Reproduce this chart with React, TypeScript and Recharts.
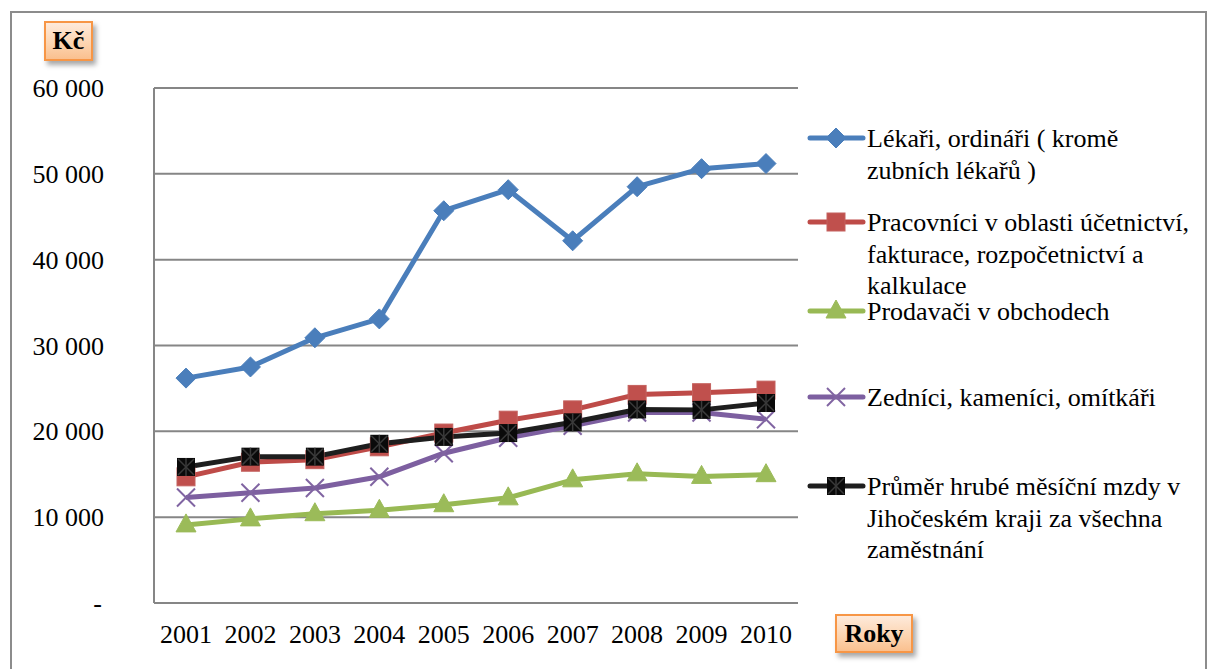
import React from 'react';
import { LineChart, Line, XAxis, YAxis, CartesianGrid } from 'recharts';

const years = ['2001', '2002', '2003', '2004', '2005', '2006', '2007', '2008', '2009', '2010'];
const lekari = [26200, 27500, 30900, 33100, 45700, 48150, 42200, 48500, 50600, 51200];
const ucetni = [14700, 16400, 16700, 18200, 19800, 21300, 22500, 24300, 24500, 24800];
const prodavaci = [9100, 9800, 10400, 10800, 11450, 12250, 14350, 15050, 14750, 14950];
const zednici = [12300, 12850, 13400, 14700, 17450, 19250, 20650, 22200, 22200, 21400];
const prumer = [15850, 17050, 17050, 18550, 19350, 19800, 21050, 22550, 22500, 23300];
const yTicks = [0, 10000, 20000, 30000, 40000, 50000, 60000];

const seriesNames = [
  'Lékaři, ordináři ( kromě zubních lékařů )',
  'Pracovníci v oblasti účetnictví, fakturace, rozpočetnictví a kalkulace',
  'Prodavači v obchodech',
  'Zedníci, kameníci, omítkáři',
  'Průměr hrubé měsíční mzdy v Jihočeském kraji za všechna zaměstnání',
];
const legendLines = [
  ['Lékaři, ordináři ( kromě', 'zubních lékařů )'],
  ['Pracovníci v oblasti účetnictví,', 'fakturace, rozpočetnictví a', 'kalkulace'],
  ['Prodavači v obchodech'],
  ['Zedníci, kameníci, omítkáři'],
  ['Průměr hrubé měsíční mzdy v', 'Jihočeském kraji za všechna', 'zaměstnání'],
];
const yLabel = 'Kč';
const xLabel = 'Roky';

const data = years.map((y, i) => ({
  year: y,
  s0: lekari[i],
  s1: ucetni[i],
  s2: prodavaci[i],
  s3: zednici[i],
  s4: prumer[i],
}));

const FONT = "'Liberation Serif', 'Times New Roman', serif";
const GRID = '#868686';
const colors = ['#4A7EBB', '#BE4B48', '#98B954', '#7D5FA0', '#1E1E1E'];
const markerKinds = ['diamond', 'square', 'triangle', 'x', 'star'];
const legendCenters = [138, 222, 311, 397, 486];

function Marker({ kind, cx, cy }: { kind: string; cx: number; cy: number }) {
  if (kind === 'diamond') {
    return <polygon points={`${cx},${cy - 10} ${cx + 10},${cy} ${cx},${cy + 10} ${cx - 10},${cy}`} fill="#4A7EBB" stroke="#4A7EBB" strokeWidth={1} />;
  }
  if (kind === 'square') {
    return <rect x={cx - 9} y={cy - 9} width={18} height={18} fill="#C0504D" stroke="#C4615E" strokeWidth={1} />;
  }
  if (kind === 'triangle') {
    return <polygon points={`${cx},${cy - 11} ${cx + 10},${cy + 7} ${cx - 10},${cy + 7}`} fill="#9BBB59" stroke="#9BBB59" strokeWidth={1} />;
  }
  if (kind === 'x') {
    return (
      <g stroke="#8064A2" strokeWidth={2}>
        <line x1={cx - 9} y1={cy - 9} x2={cx + 9} y2={cy + 9} />
        <line x1={cx - 9} y1={cy + 9} x2={cx + 9} y2={cy - 9} />
      </g>
    );
  }
  return (
    <g>
      <rect x={cx - 9} y={cy - 9} width={18} height={18} fill="#0A0A0A" />
      <g stroke="#3a3a3a" strokeWidth={1.5}>
        <line x1={cx - 8} y1={cy - 8} x2={cx + 8} y2={cy + 8} />
        <line x1={cx - 8} y1={cy + 8} x2={cx + 8} y2={cy - 8} />
        <line x1={cx} y1={cy - 9} x2={cx} y2={cy + 9} />
      </g>
    </g>
  );
}

const makeDot = (kind: string) => (props: any) => {
  const { cx, cy, index } = props;
  if (cx == null || cy == null) return <g key={index} />;
  return <Marker key={index} kind={kind} cx={cx} cy={cy} />;
};

const fmt = (v: number) => {
  if (v === 0) return '-';
  const s = String(v);
  return s.slice(0, s.length - 3) + ' ' + s.slice(-3);
};

const YTick = (props: any) => {
  const { x, y, payload } = props;
  const v = payload.value;
  return (
    <text x={v === 0 ? x - 2 : x} y={y} dy={9} textAnchor="end" fontFamily={FONT} fontSize={26} fill="#000">
      {fmt(v)}
    </text>
  );
};

const XTick = (props: any) => {
  const { x, payload } = props;
  return (
    <text x={x} y={603} dy={40} textAnchor="middle" fontFamily={FONT} fontSize={26} fill="#000">
      {payload.value}
    </text>
  );
};

const boxStyle: React.CSSProperties = {
  position: 'absolute',
  boxSizing: 'border-box',
  border: '2px solid #F79646',
  background: 'linear-gradient(to bottom, #FEEADB 0%, #FCD3AE 60%, #FAC08F 100%)',
  boxShadow: '3px 4px 5px rgba(0,0,0,0.35)',
  fontFamily: FONT,
  fontWeight: 'bold',
  fontSize: 26,
  color: '#000',
  display: 'flex',
  alignItems: 'center',
  justifyContent: 'center',
};

export default function App() {
  return (
    <div style={{ position: 'absolute', left: 0, top: 0, width: 1208, height: 669, overflow: 'hidden', background: '#fff' }}>
      <div style={{ position: 'absolute', left: 10, top: 11, width: 1197, height: 700, border: '2px solid #8C8C8C', boxSizing: 'border-box' }} />
      <div style={{ position: 'absolute', left: 0, top: 0 }}>
        <LineChart width={1208} height={669} data={data} margin={{ top: 88, right: 410, bottom: 36, left: 94 }}>
          <CartesianGrid horizontal vertical={false} stroke={GRID} strokeWidth={2} />
          <XAxis
            dataKey="year"
            height={30}
            padding={{ left: 32, right: 32 }}
            tickLine={false}
            axisLine={{ stroke: GRID, strokeWidth: 2 }}
            tick={<XTick />}
            interval={0}
          />
          <YAxis
            width={60}
            domain={[0, 60000]}
            ticks={yTicks}
            tickLine={false}
            tickMargin={44}
            axisLine={{ stroke: GRID, strokeWidth: 2 }}
            tick={<YTick />}
            interval={0}
          />
          {seriesNames.map((name, i) => (
            <Line
              key={name}
              name={name}
              dataKey={`s${i}`}
              type="linear"
              stroke={colors[i]}
              strokeWidth={5}
              strokeLinejoin="round"
              dot={makeDot(markerKinds[i])}
              activeDot={false}
              isAnimationActive={false}
            />
          ))}
        </LineChart>
      </div>
      <div style={{ ...boxStyle, left: 44, top: 21, width: 49, height: 40 }}>{yLabel}</div>
      <div style={{ ...boxStyle, left: 835, top: 614, width: 78, height: 39 }}>{xLabel}</div>
      {legendLines.map((lines, i) => {
        const center = legendCenters[i];
        return (
          <div key={i} style={{ position: 'absolute', left: 804, top: center - 15 }}>
            <svg width={64} height={30} style={{ position: 'absolute', left: 0, top: 0 }}>
              <line x1={6} y1={15} x2={59} y2={15} stroke={colors[i]} strokeWidth={5} strokeLinecap="round" />
              <Marker kind={markerKinds[i]} cx={32} cy={15} />
            </svg>
            <div
              style={{
                position: 'absolute',
                left: 63,
                top: 0,
                fontFamily: FONT,
                fontSize: 26,
                lineHeight: '31.5px',
                whiteSpace: 'nowrap',
                color: '#000',
              }}
            >
              {lines.map((l, j) => (
                <div key={j}>{l}</div>
              ))}
            </div>
          </div>
        );
      })}
    </div>
  );
}
